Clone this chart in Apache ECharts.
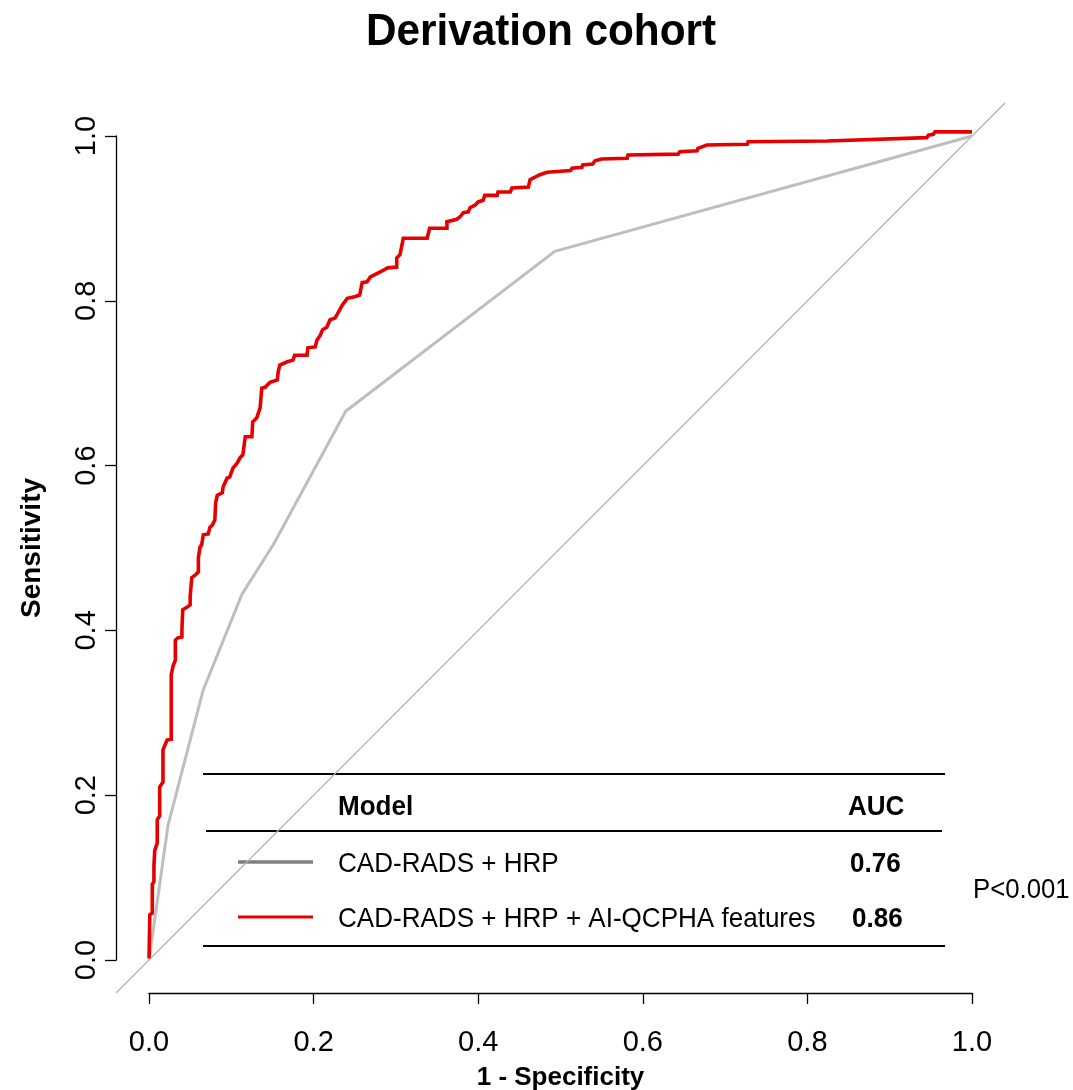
<!DOCTYPE html>
<html>
<head>
<meta charset="utf-8">
<title>Derivation cohort</title>
<script src="https://cdn.jsdelivr.net/npm/echarts@6/dist/echarts.min.js"></script>
<style>
html, body { margin: 0; padding: 0; background: #fff; }
#rocChart { width: 1073px; height: 1090px; }
</style>
</head>
<body>
<div id="rocChart"></div>
<script>
var FONT = '"Liberation Sans", Arial, sans-serif';

var titleText = "Derivation cohort";
var xName = "1 - Specificity";
var yName = "Sensitivity";

// CAD-RADS + HRP  (1 - specificity, sensitivity)
var grayFpr = [0, 0.023, 0.066, 0.113, 0.151, 0.239, 0.493, 1.0];
var grayTpr = [0, 0.163, 0.328, 0.444, 0.504, 0.666, 0.860, 1.0];

// CAD-RADS + HRP + AI-QCPHA features
var redFpr = [0, 0.001, 0.004, 0.004, 0.006, 0.006, 0.007, 0.010, 0.010, 0.013,
	0.013, 0.017, 0.017, 0.022, 0.027, 0.027, 0.028, 0.029, 0.032, 0.032,
	0.035, 0.040, 0.040, 0.041, 0.046, 0.050, 0.050, 0.052, 0.056, 0.060,
	0.060, 0.062, 0.062, 0.064, 0.066, 0.072, 0.074, 0.077, 0.080, 0.081,
	0.083, 0.089, 0.090, 0.095, 0.098, 0.102, 0.107, 0.111, 0.114, 0.117,
	0.125, 0.126, 0.131, 0.135, 0.137, 0.141, 0.147, 0.156, 0.157, 0.159,
	0.168, 0.175, 0.177, 0.192, 0.193, 0.202, 0.204, 0.208, 0.211, 0.216,
	0.220, 0.226, 0.230, 0.235, 0.241, 0.250, 0.256, 0.259, 0.265, 0.269,
	0.271, 0.281, 0.290, 0.301, 0.301, 0.305, 0.309, 0.338, 0.341, 0.362,
	0.362, 0.374, 0.378, 0.382, 0.388, 0.390, 0.396, 0.400, 0.406, 0.408,
	0.423, 0.424, 0.439, 0.441, 0.461, 0.463, 0.475, 0.481, 0.484, 0.512,
	0.514, 0.526, 0.527, 0.539, 0.542, 0.550, 0.581, 0.582, 0.643, 0.645,
	0.666, 0.667, 0.678, 0.727, 0.728, 0.824, 0.825, 0.945, 0.947, 0.953,
	0.955, 1.000];
var redTpr = [0.002, 0.055, 0.057, 0.092, 0.095, 0.114, 0.133, 0.142, 0.170, 0.175,
	0.210, 0.216, 0.255, 0.267, 0.268, 0.346, 0.348, 0.356, 0.364, 0.388,
	0.391, 0.392, 0.400, 0.425, 0.428, 0.431, 0.441, 0.464, 0.467, 0.471,
	0.488, 0.489, 0.501, 0.504, 0.516, 0.517, 0.525, 0.528, 0.534, 0.555,
	0.564, 0.567, 0.574, 0.585, 0.586, 0.597, 0.603, 0.610, 0.613, 0.635,
	0.635, 0.653, 0.658, 0.670, 0.694, 0.695, 0.701, 0.704, 0.714, 0.722,
	0.726, 0.728, 0.734, 0.734, 0.743, 0.744, 0.752, 0.758, 0.765, 0.768,
	0.777, 0.779, 0.786, 0.795, 0.803, 0.805, 0.807, 0.822, 0.823, 0.829,
	0.831, 0.835, 0.840, 0.841, 0.852, 0.856, 0.876, 0.876, 0.888, 0.888,
	0.896, 0.899, 0.902, 0.907, 0.908, 0.913, 0.916, 0.920, 0.922, 0.928,
	0.928, 0.932, 0.932, 0.937, 0.938, 0.947, 0.953, 0.955, 0.956, 0.958,
	0.961, 0.962, 0.965, 0.966, 0.970, 0.972, 0.973, 0.977, 0.978, 0.981,
	0.982, 0.985, 0.989, 0.990, 0.993, 0.994, 0.996, 0.998, 1.001, 1.002,
	1.005, 1.005];

// reference diagonal, runs a little past the axes like abline()
var diagX = [-0.04, 1.04];
var diagY = [-0.04, 1.04];

var modelNames = ["CAD-RADS + HRP", "CAD-RADS + HRP + AI-QCPHA features"];
var aucValues = ["0.76", "0.86"];
var pText = "P<0.001";

function pairs(xs, ys) {
	var out = [];
	for (var i = 0; i < xs.length; i++) {
		out.push([xs[i], ys[i]]);
	}
	return out;
}

// narrow-ish text, the R device font is a bit condensed
function label(txt, x, y, font, sx) {
	return {
		type: "text", x: x, y: y, scaleX: sx || 0.93,
		style: { text: txt, font: font, fill: "#000", verticalAlign: "middle" }
	};
}

function hline(x1, x2, y) {
	return { type: "line", shape: { x1: x1, y1: y, x2: x2, y2: y }, style: { stroke: "#000", lineWidth: 2.2 } };
}

var chart = echarts.init(document.getElementById("rocChart"), null, { renderer: "canvas" });

var axisCommon = {
	type: "value",
	gridIndex: 0,
	min: 0,
	max: 1,
	interval: 0.2,
	offset: 33,
	axisLine: { show: true, onZero: false, lineStyle: { color: "#000", width: 1.3 } },
	axisTick: { show: true, inside: false, length: 11, lineStyle: { color: "#000", width: 1.3 } },
	splitLine: { show: false },
	nameLocation: "middle"
};

// full plot region (-0.04 .. 1.04), only used for the diagonal
var hiddenAxis = { type: "value", gridIndex: 1, min: -0.04, max: 1.04, show: false, splitLine: { show: false } };

var option = {
	backgroundColor: "#fff",
	animation: false,
	grid: [
		{ left: 149, right: 101, top: 136, bottom: 130, containLabel: false, outerBoundsMode: "none" },
		{ left: 116, right: 68, top: 103, bottom: 97, containLabel: false, outerBoundsMode: "none" }
	],
	xAxis: [echarts.util.merge({
		name: xName,
		nameGap: 72,
		nameTextStyle: { fontFamily: FONT, fontSize: 26, fontWeight: "bold", color: "#000" },
		axisLabel: {
			margin: 35,
			fontFamily: FONT,
			fontSize: 29,
			color: "#000",
			formatter: function (v) { return v.toFixed(1); }
		}
	}, axisCommon), hiddenAxis],
	yAxis: [echarts.util.merge({
		name: yName,
		nameGap: 70,
		nameTextStyle: { fontFamily: FONT, fontSize: 28, fontWeight: "bold", color: "#000" },
		axisLabel: {
			margin: 15,
			rotate: 90,
			fontFamily: FONT,
			fontSize: 29,
			color: "#000",
			formatter: function (v) { return v.toFixed(1); }
		}
	}, axisCommon), hiddenAxis],
	series: [{
		name: "diagonal",
		type: "line",
		xAxisIndex: 1,
		yAxisIndex: 1,
		data: pairs(diagX, diagY),
		symbol: "none",
		silent: true,
		lineStyle: { color: "#b3b3b3", width: 1.2 },
		z: 1
	}, {
		name: modelNames[0],
		type: "line",
		data: pairs(grayFpr, grayTpr),
		symbol: "none",
		clip: false,
		lineStyle: { color: "#bebebe", width: 3 },
		z: 2
	}, {
		name: modelNames[1],
		type: "line",
		data: pairs(redFpr, redTpr),
		symbol: "none",
		clip: false,
		lineStyle: { color: "#e60000", width: 3.6, join: "miter" },
		z: 3
	}],
	graphic: [
		{
			type: "text", x: 541, y: 33, scaleX: 0.94,
			style: { text: titleText, font: "bold 45px " + FONT, fill: "#000", align: "center", verticalAlign: "middle" }
		},

		// legend table
		hline(203, 945, 774),
		hline(206, 942, 831),
		hline(203, 945, 946),
		label("Model", 338, 807, "bold 28px " + FONT),
		label("AUC", 848, 807, "bold 28px " + FONT),
		{ type: "line", shape: { x1: 238, y1: 862, x2: 313, y2: 862 }, style: { stroke: "#7f7f7f", lineWidth: 3.6 } },
		{ type: "line", shape: { x1: 238, y1: 917, x2: 313, y2: 917 }, style: { stroke: "#e60000", lineWidth: 3.2 } },
		label(modelNames[0], 338, 864, "28px " + FONT),
		label(modelNames[1], 338, 919, "28px " + FONT),
		label(aucValues[0], 850, 864, "bold 28px " + FONT),
		label(aucValues[1], 852, 919, "bold 28px " + FONT),
		label(pText, 973, 890, "28px " + FONT, 0.92)
	]
};

chart.setOption(option);
</script>
</body>
</html>
